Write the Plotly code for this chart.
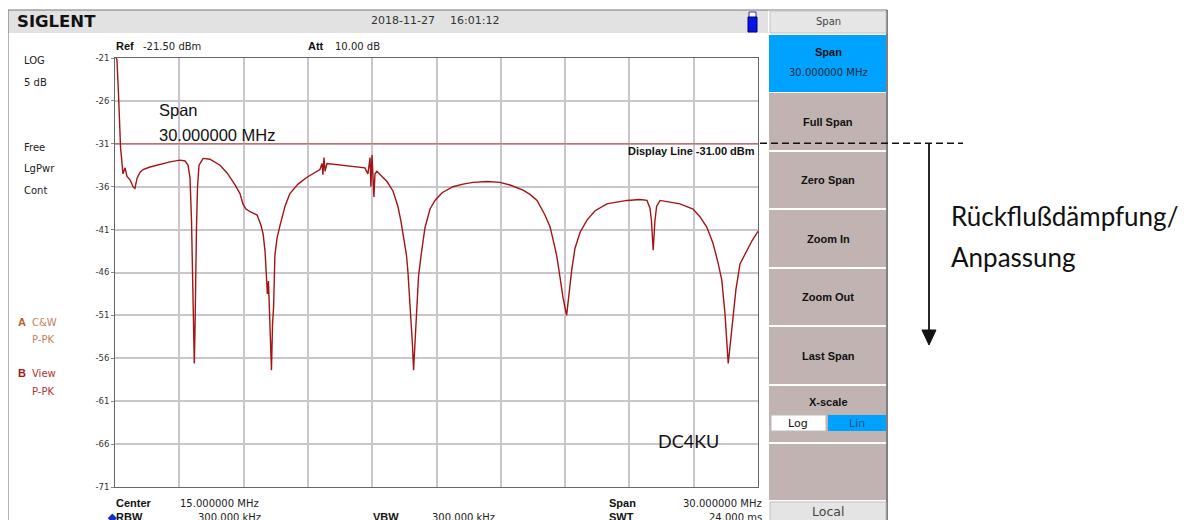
import plotly.graph_objects as go

# ---------------- data ----------------
freq_mhz = [0.05, 0.09, 0.16, 0.21, 0.26, 0.30, 0.37, 0.47, 0.56, 0.70, 0.84, 0.93, 1.03, 1.17, 1.31,
            1.63, 2.10, 2.57, 3.03, 3.27, 3.41, 3.50, 3.57, 3.62, 3.66, 3.70, 3.73, 3.76, 3.80, 3.85,
            3.92, 4.11, 4.43, 4.90, 5.23, 5.60, 5.83, 5.97, 6.11, 6.30, 6.63, 6.81, 6.91, 7.00, 7.07,
            7.11, 7.16, 7.21, 7.26, 7.30, 7.35, 7.40, 7.46, 7.56, 7.70, 7.93, 8.16, 8.54, 8.96, 9.33,
            9.56, 9.66, 9.70, 9.75, 9.80, 9.89, 10.26, 10.73, 11.20, 11.66, 11.80, 11.90, 11.94, 11.99,
            12.04, 12.08, 12.13, 12.22, 12.46, 12.69, 12.97, 13.20, 13.34, 13.48, 13.60, 13.67, 13.74,
            13.81, 13.88, 13.93, 14.00, 14.07, 14.16, 14.28, 14.46, 14.70, 14.93, 15.26, 15.77, 16.24,
            16.70, 17.36, 17.96, 18.43, 19.04, 19.36, 19.69, 20.06, 20.30, 20.48, 20.62, 20.76, 20.90,
            21.07, 21.18, 21.31, 21.46, 21.70, 22.02, 22.40, 22.95, 23.42, 23.89, 24.49, 24.82, 24.96,
            25.03, 25.11, 25.19, 25.27, 25.43, 25.89, 26.36, 26.97, 27.29, 27.61, 27.90, 28.13, 28.31,
            28.46, 28.55, 28.61, 28.72, 28.85, 28.97, 29.16, 29.47, 29.72, 30.00]
level_dbm = [-21.0, -21.2, -25.0, -29.0, -31.5, -32.5, -34.5, -33.8, -34.8, -35.2, -36.0, -36.2, -35.0, -34.3, -34.0,
             -33.7, -33.4, -33.1, -32.9, -33.0, -33.5, -35.0, -40.0, -46.0, -52.0, -56.6, -53.0, -47.0, -41.0, -36.0,
             -33.5, -32.7, -32.8, -33.5, -34.4, -35.8, -36.8, -38.0, -38.6, -38.9, -39.3, -40.5, -41.5, -43.5, -46.0,
             -48.5, -47.0, -51.0, -53.0, -57.4, -52.0, -50.0, -44.0, -42.0, -40.5, -38.3, -36.8, -35.7, -34.9, -34.3,
             -34.0, -33.3, -34.6, -32.6, -34.2, -33.3, -33.4, -33.5, -33.6, -33.8, -34.5, -32.6, -36.0, -32.3,
             -35.0, -37.2, -34.5, -34.2, -34.8, -35.4, -36.5, -38.3, -40.0, -42.0, -44.0, -46.0, -48.5,
             -51.0, -54.5, -57.4, -54.0, -50.0, -46.5, -44.0, -40.8, -38.6, -37.6, -36.7, -36.0, -35.7,
             -35.5, -35.4, -35.5, -35.8, -36.4, -36.9, -37.6, -39.3, -40.7, -42.6, -44.2, -46.5, -48.9,
             -51.0, -48.5, -45.7, -43.2, -41.3, -39.9, -38.8, -38.0, -37.8, -37.6, -37.5, -37.6, -38.5,
             -40.0, -43.4, -40.0, -38.3, -37.6, -37.8, -38.0, -38.6, -39.5, -40.7, -42.6, -44.8, -46.9,
             -50.8, -54.0, -56.6, -54.0, -51.2, -48.0, -45.0, -43.4, -42.3, -41.2]
display_line_dbm = -31.0
y_ticks = [-21, -26, -31, -36, -41, -46, -51, -56, -61, -66, -71]
x_start_mhz, x_stop_mhz, x_div_mhz = 0.0, 30.0, 3.0

# ---------------- geometry helpers ----------------
W, H = 1192, 520
OFF = 8                      # page body margin of the browser
L, R, T, B = 115, 758, 58, 487   # graticule edges in screen pixels


def px(x):
    return (x - L) / (R - L)


def py(y):
    return (B - y) / (B - T)


SANS = "DejaVu Sans"
BOLD = "Liberation Sans"
CAL = "Lato"

shapes = []
annotations = []


def rect(x0, y0, x1, y1, fill, line=None, lw=1, layer="above"):
    shapes.append(dict(type="rect", xref="paper", yref="paper",
                       x0=px(x0), x1=px(x1), y0=py(y1), y1=py(y0),
                       fillcolor=fill, layer=layer,
                       line=dict(color=line if line else fill, width=lw if line else 0)))


def hline(x0, x1, y, color, w=1, dash=None):
    shapes.append(dict(type="line", xref="paper", yref="paper",
                       x0=px(x0), x1=px(x1), y0=py(y), y1=py(y),
                       line=dict(color=color, width=w, dash=dash)))


def vline(x, y0, y1, color, w=1):
    shapes.append(dict(type="line", xref="paper", yref="paper",
                       x0=px(x), x1=px(x), y0=py(y0), y1=py(y1),
                       line=dict(color=color, width=w)))


def txt(x, y, s, size=10, color="#222", family=SANS, xanchor="left", bold=False, **kw):
    annotations.append(dict(xref="paper", yref="paper", x=px(x), y=py(y),
                            text=("<b>%s</b>" % s) if bold else s, showarrow=False,
                            xanchor=xanchor, yanchor="middle",
                            font=dict(size=size, color=color, family=family), **kw))


# ---------------- instrument frame ----------------
rect(8, 10, 768, 33, "#e2e2e2")                     # header bar
hline(8, 887, 10, "#777777", 1)
vline(8, 10, 530, "#666666", 1)
vline(887, 10, 530, "#555555", 1.5)
txt(15, 22, "SIGLENT", 16.5, "#111111", "DejaVu Sans", bold=True)
txt(369, 21, "2018-11-27", 11, "#333333")
txt(448, 21, "16:01:12", 11, "#333333")
# USB stick icon
rect(749, 12, 756, 18, "#ffffff", "#333399", 1)
rect(748, 17, 757, 32, "#0a14e6", "#000066", 1)

# right softkey panel
rect(770, 11, 886, 33, "#e6e6e6", "#c4c4c4", 1)
txt(828, 22, "Span", 10, "#444444", SANS, xanchor="center")
rect(769, 35, 886, 92, "#00a2ff")
txt(828, 52, "Span", 11, "#111111", BOLD, xanchor="center", bold=True)
txt(828, 72, "30.000000 MHz", 10, "#1a2a3a", SANS, xanchor="center")
buttons = [("Full Span", 93, 150), ("Zero Span", 152, 208), ("Zoom In", 210, 267),
           ("Zoom Out", 269, 325), ("Last Span", 327, 384), ("X-scale", 386, 442), ("", 444, 500)]
for name, y0, y1 in buttons:
    rect(769, y0, 886, y1, "#c0b3b1")
    if name == "X-scale":
        txt(828, 402, name, 11, "#111111", BOLD, xanchor="center", bold=True)
    elif name:
        txt(828, (y0 + y1) / 2, name, 11, "#111111", BOLD, xanchor="center", bold=True)
rect(771, 415, 826, 431, "#ffffff", "#bbbbbb", 1)
rect(828, 415, 886, 431, "#00a2ff")
txt(798, 423, "Log", 11, "#111111", SANS, xanchor="center")
txt(857, 423, "Lin", 11, "#1f4f8f", SANS, xanchor="center")
rect(770, 502, 886, 530, "#e4e4e4", "#bdbdbd", 1)
txt(828, 512, "Local", 12.5, "#444444", SANS, xanchor="center")

# left status column
txt(22, 61, "LOG", 10, "#222")
txt(22, 82, "5 dB", 10, "#222")
txt(22, 147, "Free", 10, "#222")
txt(22, 168, "LgPwr", 10, "#222")
txt(22, 190, "Cont", 10, "#222")
txt(16, 322, "A", 11, "#b5602b", BOLD, bold=True)
txt(30, 322, "C&amp;W", 10, "#c0825c")
txt(30, 339, "P-PK", 10, "#c0825c")
txt(16, 373, "B", 11, "#a3161a", BOLD, bold=True)
txt(30, 373, "View", 10, "#b33333")
txt(30, 391, "P-PK", 10, "#b33333")

# top line above the graticule
txt(114, 46, "Ref", 11, "#111", BOLD, bold=True)
txt(141, 46, "-21.50 dBm", 10, "#222")
txt(306, 46, "Att", 11, "#111", BOLD, bold=True)
txt(333, 46, "10.00 dB", 10, "#222")

# bottom info rows
txt(114, 503, "Center", 11, "#111", BOLD, bold=True)
txt(178, 503, "15.000000 MHz", 10, "#222")
txt(105, 517, "<span style='color:#1030c0'>◆</span>RBW", 11, "#111", BOLD, bold=True)
txt(263, 517, "300.000 kHz", 10, "#222", xanchor="right")
txt(371, 517, "VBW", 11, "#111", BOLD, bold=True)
txt(430, 517, "300.000 kHz", 10, "#222")
txt(607, 503, "Span", 11, "#111", BOLD, bold=True)
txt(764, 503, "30.000000 MHz", 10, "#222", xanchor="right")
txt(607, 517, "SWT", 11, "#111", BOLD, bold=True)
txt(764, 517, "24.000 ms", 10, "#222", xanchor="right")

# in-graticule overlays
rect(150, 101, 292, 148, "#ffffff", layer="between")
txt(157, 110, "Span", 16.5, "#111", "Liberation Sans")
txt(157, 135, "30.000000 MHz", 16.5, "#111", "Liberation Sans")
rect(637, 415, 742, 469, "#ffffff", layer="between")
txt(688, 441, "DC4KU", 18, "#111", CAL, xanchor="center")
shapes.append(dict(type="line", xref="x", yref="y", x0=x_start_mhz, x1=x_stop_mhz,
                   y0=display_line_dbm, y1=display_line_dbm,
                   line=dict(color="#c84a4a", width=1), layer="between"))
txt(757, 151, "Display Line -31.00 dBm", 11, "#111", BOLD, xanchor="right", bold=True)

# external annotation (dashed line, arrow, German text)
hline(760, 963, 143.3, "#111111", 1.5, dash="7px,4px")
vline(929, 143.3, 333, "#111111", 1.8)
shapes.append(dict(type="path", xref="paper", yref="paper",
                   path="M %f %f L %f %f L %f %f Z" % (px(922), py(330), px(936), py(330), px(929), py(345)),
                   fillcolor="#111111", line=dict(color="#111111", width=1)))
txt(949, 216, "Rückflußdämpfung/", 26, "#111", CAL)
txt(949, 257, "Anpassung", 26, "#111", CAL)

# ---------------- figure ----------------
fig = go.Figure()
fig.add_trace(go.Scatter(x=freq_mhz, y=level_dbm, mode="lines",
                         line=dict(color="#a31414", width=1.4), hoverinfo="skip", showlegend=False))

fig.update_layout(
    width=W, height=H,
    margin=dict(l=L - OFF, r=W - (R - OFF), t=T - OFF, b=H - (B - OFF), pad=0),
    paper_bgcolor="#ffffff", plot_bgcolor="#ffffff",
    shapes=shapes, annotations=annotations, showlegend=False,
    xaxis=dict(range=[x_start_mhz, x_stop_mhz], dtick=x_div_mhz, tick0=0, showticklabels=False,
               showgrid=True, gridcolor="#cac4cc", gridwidth=1.5, zeroline=False,
               showline=True, linecolor="#666666", linewidth=1, mirror=True, ticks=""),
    yaxis=dict(range=[-71, -21], tickvals=y_ticks, ticktext=[str(v) for v in y_ticks],
               showgrid=True, gridcolor="#cac4cc", gridwidth=1.5, zeroline=False,
               showline=True, linecolor="#666666", linewidth=1, mirror=True,
               ticks="outside", ticklen=3, tickcolor="#888888",
               tickfont=dict(size=8.5, color="#333333", family=SANS)),
)

fig.write_html("out.html")
